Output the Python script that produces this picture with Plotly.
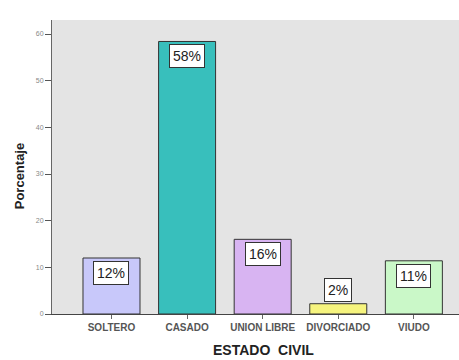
import plotly.graph_objects as go

categories = ["SOLTERO", "CASADO", "UNION LIBRE", "DIVORCIADO", "VIUDO"]
values = [12.0, 58.4, 16.0, 2.2, 11.4]
labels = ["12%", "58%", "16%", "2%", "11%"]
colors = ["#c8c8fa", "#38bfbc", "#d8b4f2", "#f6f47e", "#caf8c8"]
y_ticks = [0, 10, 20, 30, 40, 50, 60]

fig = go.Figure()
fig.add_trace(go.Bar(
    x=categories, y=values,
    marker=dict(color=colors, line=dict(color="#333333", width=1)),
    width=0.754,
))

for c, v, t in zip(categories, values, labels):
    small = v < 5
    fig.add_annotation(
        x=c, y=v, text=t, showarrow=False,
        yanchor="bottom" if small else "top",
        yshift=2 if small else -3,
        bgcolor="white", bordercolor="#333333", borderwidth=1, borderpad=3,
        font=dict(family="Liberation Sans", size=14, color="#222222"),
    )

fig.add_annotation(
    text="Porcentaje", textangle=-90, xref="paper", yref="paper",
    x=-0.08, y=0.47, xanchor="center", yanchor="middle", showarrow=False,
    font=dict(family="Liberation Sans", size=13, color="#222222", weight="bold"),
)
fig.add_annotation(
    text="ESTADO  CIVIL", xref="paper", yref="paper",
    x=0.52, y=-0.09, xanchor="center", yanchor="top", showarrow=False,
    font=dict(family="Liberation Sans", size=14, color="#222222", weight="bold"),
)

fig.update_layout(
    width=459, height=360,
    margin=dict(l=52, r=0, t=20, b=46),
    paper_bgcolor="white", plot_bgcolor="#e4e4e4",
    showlegend=False,
    xaxis=dict(
        range=[-0.787, 4.597], showgrid=False, zeroline=False,
        showline=True, linecolor="#444444", linewidth=1,
        ticks="outside", ticklen=4, tickcolor="#666666",
        tickfont=dict(family="Liberation Sans", size=10, color="#555555", weight="bold"),
    ),
    yaxis=dict(
        range=[0, 63], tickvals=y_ticks, showgrid=False, zeroline=False,
        showline=True, linecolor="#666666", linewidth=1,
        ticks="outside", ticklen=6, tickcolor="#555555",
        tickfont=dict(family="Liberation Sans", size=7, color="#888888"),
    ),
)

fig.write_html("out.html")
